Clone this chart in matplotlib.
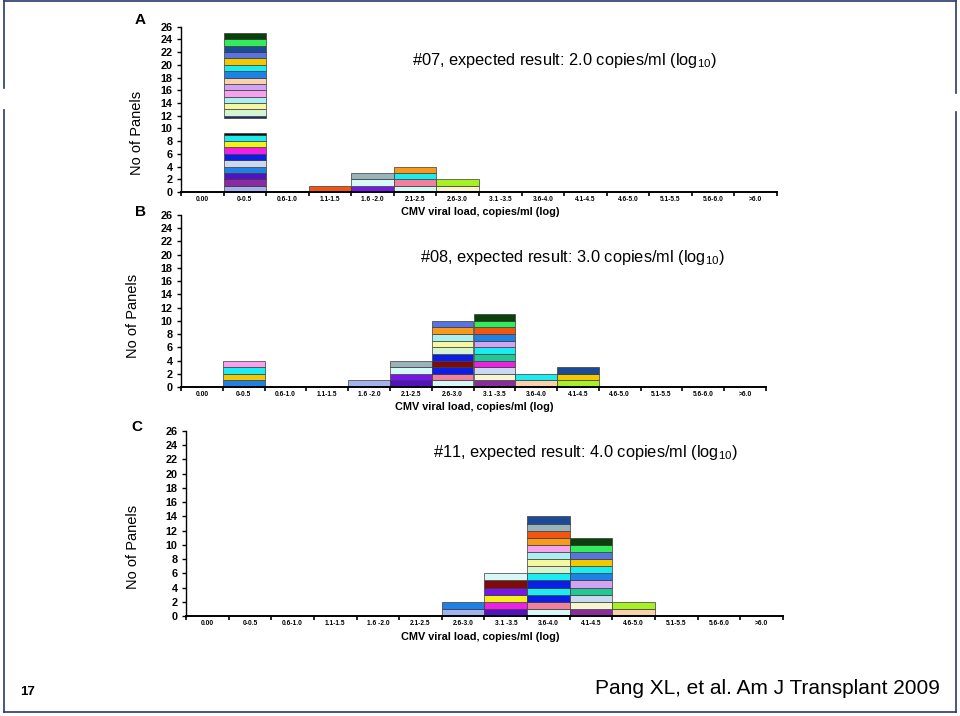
"""Stacked panel histograms of CMV viral load (Pang XL et al. 2009) as a slide."""

import matplotlib

matplotlib.use("Agg")
import matplotlib.pyplot as plt  # noqa: E402
import numpy as np  # noqa: E402
from matplotlib.lines import Line2D  # noqa: E402

plt.rcParams["font.family"] = ["Liberation Sans", "DejaVu Sans"]
plt.rcParams["mathtext.fontset"] = "custom"
plt.rcParams["mathtext.rm"] = "Liberation Sans"
plt.rcParams["mathtext.it"] = "Liberation Sans"

W, H = 960, 716

CATEGORIES = ["0.00", "0-0.5", "0.6-1.0", "1.1-1.5", "1.6 -2.0", "2.1-2.5", "2.6-3.0",
              "3.1 -3.5", "3.6-4.0", "4.1-4.5", "4.6-5.0", "5.1-5.5", "5.6-6.0", ">6.0"]

# one colour per participating lab
PALETTE = {
    "periwinkle": "#a3b1ee", "plum": "#8a2c9e", "indigo": "#5212c2", "azure": "#1f80e6",
    "lavender": "#c9d9f2", "blue": "#0a1ee6", "magenta": "#f01fe6", "yellow": "#f5f01a",
    "cyan": "#1aecef", "rule_k": "#101010", "rule_n": "#1a2a80", "palegreen": "#d5f5d0",
    "lightyellow": "#f7f7a0", "lightcyan": "#aaf0f0", "pink": "#f5a3ef", "lilac": "#d2a3f2",
    "peach": "#f7d2ad", "gold": "#f2c800", "cornflower": "#5874e0", "darkblue": "#1c4a94",
    "green": "#33ec5c", "darkgreen": "#0a400a", "orangered": "#f25512", "violet": "#7616ea",
    "ice": "#d6f8f6", "slate": "#9ab2ba", "rose": "#f0809e", "orange": "#f79a1c",
    "cream": "#f8f6d0", "lime": "#a6f025", "maroon": "#7e0a0a", "teal": "#22c894",
}
# segments are one panel each, except the thin rules / gap of the broken bar in A
SEG_HEIGHT = {"rule_k": 0.3, "rule_n": 0.3, "gap": 2.4}

STACKS_A = {
    1: ["periwinkle", "plum", "indigo", "azure", "lavender", "blue", "magenta", "yellow",
        "cyan", "rule_k", "gap", "rule_n", "palegreen", "lightyellow", "lightcyan", "pink",
        "lilac", "peach", "azure", "cyan", "gold", "cornflower", "darkblue", "green",
        "darkgreen"],
    3: ["orangered"],
    4: ["violet", "ice", "slate"],
    5: ["ice", "rose", "cyan", "orange"],
    6: ["cream", "lime"],
}
STACKS_B = {
    1: ["azure", "gold", "cyan", "pink"],
    4: ["periwinkle"],
    5: ["indigo", "violet", "ice", "slate"],
    6: ["ice", "rose", "blue", "maroon", "blue", "palegreen", "lightyellow", "lightcyan",
        "orange", "cornflower"],
    7: ["plum", "cream", "lavender", "magenta", "teal", "cyan", "lilac", "azure",
        "orangered", "green", "darkgreen"],
    8: ["peach", "cyan"],
    9: ["lime", "gold", "darkblue"],
}
STACKS_C = {
    6: ["periwinkle", "azure"],
    7: ["indigo", "magenta", "yellow", "violet", "maroon", "ice"],
    8: ["ice", "rose", "blue", "cyan", "blue", "cyan", "palegreen", "lightyellow",
        "lightcyan", "pink", "orange", "orangered", "slate", "darkblue"],
    9: ["plum", "cream", "lavender", "teal", "lilac", "azure", "cyan", "gold",
        "cornflower", "green", "darkgreen"],
    10: ["peach", "lime"],
}

TITLES = [
    r"#07, expected result: 2.0 copies/ml (log$_{10}$)",
    r"#08, expected result: 3.0 copies/ml (log$_{10}$)",
    r"#11, expected result: 4.0 copies/ml (log$_{10}$)",
]
LETTERS = ["A", "B", "C"]


fig = plt.figure(figsize=(W / 100, H / 100), dpi=100)


def px_axes(left, top, right, bottom):
    return fig.add_axes([left / W, 1 - bottom / H, (right - left) / W, (bottom - top) / H])


def ftext(x, y, s, **kw):
    fig.text(x / W, 1 - y / H, s, **kw)


def draw_panel(ax, stacks):
    for idx, keys in stacks.items():
        base = 0.0
        for key in keys:
            h = SEG_HEIGHT.get(key, 1.0)
            if key != "gap":
                ax.bar(idx, h, bottom=base, width=1.0, color=PALETTE[key],
                       edgecolor="#3a3a3a", linewidth=0.5)
            base += h
    ax.set_xlim(-0.5, len(CATEGORIES) - 0.5)
    ax.set_ylim(0, 26)
    ax.set_yticks(range(0, 27, 2))
    ax.set_xticks(np.arange(len(CATEGORIES) + 1) - 0.5, labels=[])
    ax.set_xticks(np.arange(len(CATEGORIES)), labels=CATEGORIES, minor=True)
    ax.tick_params(axis="x", which="major", length=3, width=1.2)
    ax.tick_params(axis="x", which="minor", length=0, labelsize=4.8, pad=3)
    ax.tick_params(axis="y", length=3, width=1.0, labelsize=7.8, pad=3)
    for lab in ax.get_xticklabels(minor=True) + ax.get_yticklabels():
        lab.set_fontweight("bold")
    for side in ("top", "right"):
        ax.spines[side].set_visible(False)
    ax.spines["left"].set_linewidth(1.0)
    ax.spines["bottom"].set_linewidth(1.4)
    ax.patch.set_alpha(0)


panels = [
    (px_axes(181, 26.7, 777, 192), STACKS_A),
    (px_axes(181, 215, 766, 387), STACKS_B),
    (px_axes(186, 431, 783, 616), STACKS_C),
]
for ax, stacks in panels:
    draw_panel(ax, stacks)

title_pos = [(412, 60), (420, 257), (433, 453)]
letter_pos = [(140, 20), (140, 212), (137, 427)]
ylabel_pos = [(137, 133), (133, 316), (133, 547)]
xlabel_pos = [(480, 212), (474, 407), (480, 637)]
for i in range(3):
    ftext(*title_pos[i], TITLES[i], fontsize=11.8, ha="left", va="center")
    ftext(*letter_pos[i], LETTERS[i], fontsize=11, fontweight="bold", ha="center", va="center")
    ftext(*ylabel_pos[i], "No of Panels", fontsize=10.5, rotation=90, ha="center", va="center")
    ftext(*xlabel_pos[i], "CMV viral load, copies/ml (log)", fontsize=7.8,
          fontweight="bold", ha="center", va="center")

# slide furniture
ftext(28, 692, "17", fontsize=9.5, fontweight="bold", ha="center", va="center")
ftext(940, 689, "Pang XL, et al. Am J Transplant 2009", fontsize=15, ha="right", va="center")

frame = "#2b3a6b"
for xs, ys in [((4, 956), (1, 1)), ((4, 956), (712, 712)), ((4, 4), (1, 88)),
               ((4, 4), (110, 712)), ((956, 956), (1, 93)), ((956, 956), (112, 712))]:
    fig.add_artist(Line2D([x / W for x in xs], [1 - y / H for y in ys],
                          color=frame, linewidth=1.2))

fig.savefig("out.png", dpi=100)
